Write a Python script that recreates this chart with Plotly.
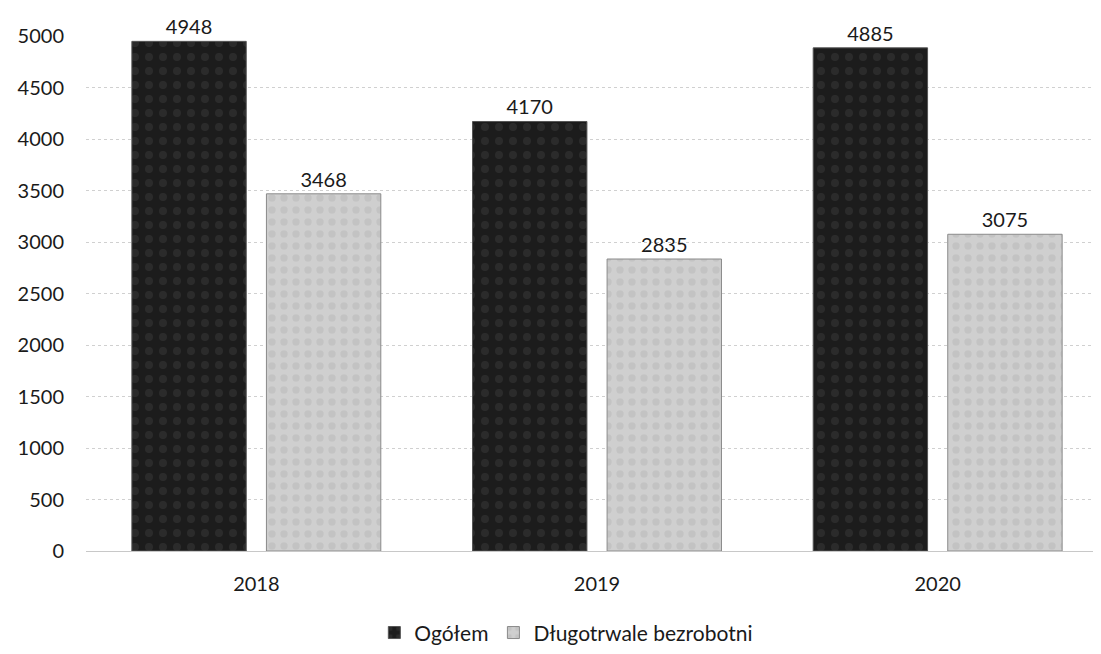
import plotly.graph_objects as go

years = ["2018", "2019", "2020"]
ogolem = [4948, 4170, 4885]
dlugotrwale = [3468, 2835, 3075]
y_ticks = [0, 500, 1000, 1500, 2000, 2500, 3000, 3500, 4000, 4500, 5000]

FONT = "Lato, 'Open Sans', sans-serif"

fig = go.Figure()
fig.add_trace(go.Bar(
    x=years, y=ogolem, name="Ogółem",
    marker=dict(color="#1c1c1c", line=dict(color="#555555", width=1),
                pattern=dict(shape=".", fgcolor="#3a3a3a", size=14, solidity=0.25)),
    text=[str(v) for v in ogolem], textposition="outside",
    textfont=dict(size=20, color="#1a1a1a", family=FONT), cliponaxis=False,
))
fig.add_trace(go.Bar(
    x=years, y=dlugotrwale, name="Długotrwale bezrobotni",
    marker=dict(color="#cfcfcf", line=dict(color="#8a8a8a", width=1),
                pattern=dict(shape=".", fgcolor="#b8b8b8", size=12, solidity=0.3)),
    text=[str(v) for v in dlugotrwale], textposition="outside",
    textfont=dict(size=20, color="#1a1a1a", family=FONT), cliponaxis=False,
))

fig.update_layout(
    width=1101, height=654,
    margin=dict(l=78, r=1, t=28, b=111, autoexpand=False),
    paper_bgcolor="white", plot_bgcolor="white",
    barmode="group", bargap=0.21, bargroupgap=0.15,
    font=dict(family=FONT, size=20, color="#1a1a1a"),
    showlegend=True,
    legend=dict(orientation="h", x=0.47, xanchor="center", y=-0.159, yanchor="middle",
                font=dict(size=21, color="#1a1a1a"), itemwidth=30,
                bgcolor="rgba(0,0,0,0)"),
    xaxis=dict(showgrid=False, showline=False, ticks="", tickfont=dict(size=20),
               ticklabelstandoff=19),
    yaxis=dict(range=[0, 5000], tickvals=y_ticks, showgrid=True, gridcolor="#d0d0d0",
               griddash="dot", gridwidth=1, zeroline=True, zerolinecolor="#c8c8c8",
               zerolinewidth=1, showline=False, ticks="", tickfont=dict(size=20),
               ticklabelstandoff=21),
)

fig.write_html("out.html")
